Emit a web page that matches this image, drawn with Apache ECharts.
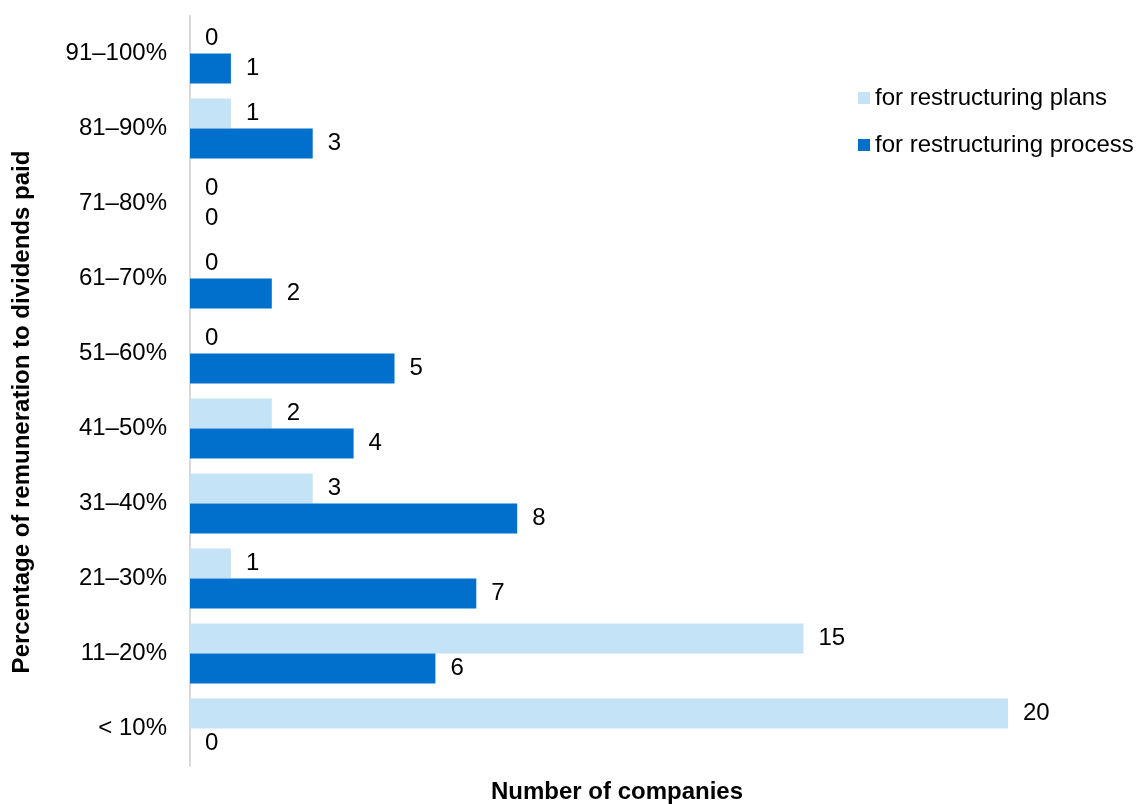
<!DOCTYPE html>
<html>
<head>
<meta charset="utf-8">
<script src="https://cdn.jsdelivr.net/npm/echarts@6/dist/echarts.min.js"></script>
<style>
  html, body { margin: 0; padding: 0; background: #fff; }
  #chart { width: 1136px; height: 804px; }
</style>
</head>
<body>
<div id="chart"></div>
<script>
// Remuneration bands, listed from the bottom of the axis upwards
const categories = ['< 10%', '11–20%', '21–30%', '31–40%', '41–50%', '51–60%', '61–70%', '71–80%', '81–90%', '91–100%'];
const plansValues = [20, 15, 1, 3, 2, 0, 0, 0, 1, 0];
const processValues = [0, 6, 7, 8, 4, 5, 2, 0, 3, 1];
const seriesNames = ['for restructuring plans', 'for restructuring process'];
const xAxisTitle = 'Number of companies';
const yAxisTitle = 'Percentage of remuneration to dividends paid';

const FONT = '"Liberation Sans", Arial, sans-serif';
const labelStyle = {
  show: true,
  position: 'right',
  distance: 15,
  color: '#000',
  fontSize: 24,
  fontFamily: FONT,
  padding: [5, 0, 0, 0]
};

const chart = echarts.init(document.getElementById('chart'), null, { renderer: 'canvas' });
chart.setOption({
  animation: false,
  backgroundColor: '#fff',
  textStyle: { fontFamily: FONT },
  grid: { left: 190, right: 128, top: 16, bottom: 38, containLabel: false, outerBoundsMode: 'none' },
  legend: {
    data: seriesNames,
    orient: 'vertical',
    left: 858,
    top: 86,
    padding: 0,
    itemWidth: 12,
    itemHeight: 12,
    itemGap: 23,
    icon: 'rect',
    textStyle: { fontSize: 24, color: '#000', fontFamily: FONT }
  },
  xAxis: {
    type: 'value',
    min: 0,
    max: 20,
    axisLine: { show: false },
    axisTick: { show: false },
    axisLabel: { show: false },
    splitLine: { show: false }
  },
  yAxis: {
    type: 'category',
    data: categories,
    axisLine: { show: true, lineStyle: { color: '#d9d9d9', width: 2 } },
    axisTick: { show: false },
    axisLabel: { fontSize: 24, color: '#000', margin: 23, fontFamily: FONT, padding: [6, 0, 0, 0] }
  },
  graphic: [
    {
      type: 'text',
      x: 617,
      y: 792,
      style: {
        text: xAxisTitle,
        font: 'bold 24px ' + FONT,
        fill: '#000',
        textAlign: 'center',
        textVerticalAlign: 'middle'
      }
    },
    {
      type: 'text',
      x: 22,
      y: 412,
      rotation: Math.PI / 2,
      style: {
        text: yAxisTitle,
        font: 'bold 24px ' + FONT,
        fill: '#000',
        textAlign: 'center',
        textVerticalAlign: 'middle'
      }
    }
  ],
  series: [
    {
      name: seriesNames[0],
      type: 'bar',
      data: plansValues,
      itemStyle: { color: '#c5e3f7' },
      barGap: '0%',
      barCategoryGap: '20%',
      label: labelStyle
    },
    {
      name: seriesNames[1],
      type: 'bar',
      data: processValues,
      itemStyle: { color: '#0070cc' },
      barGap: '0%',
      barCategoryGap: '20%',
      label: labelStyle
    }
  ]
});
</script>
</body>
</html>
